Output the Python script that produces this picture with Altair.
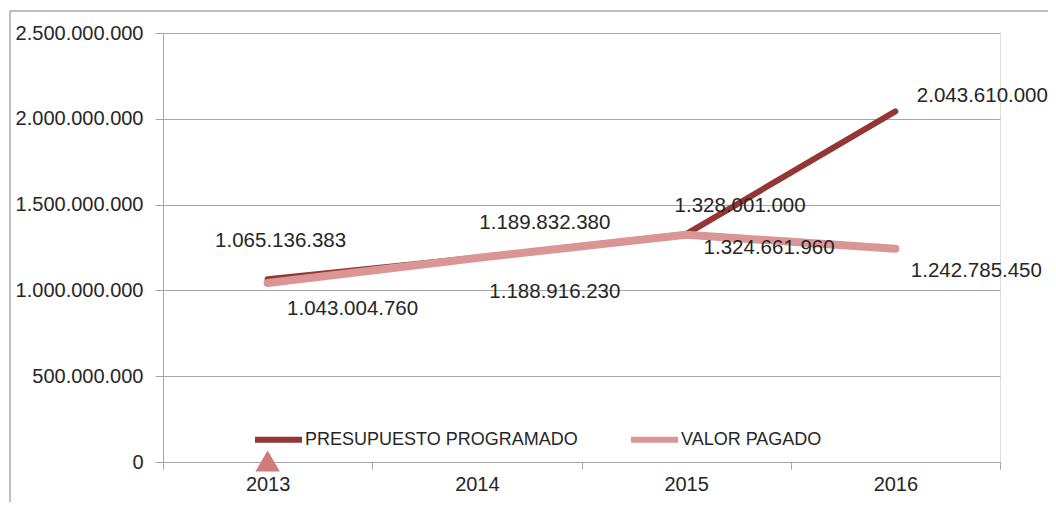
import altair as alt
import pandas as pd

years = ["2013", "2014", "2015", "2016"]
presupuesto = [1065136383, 1189832380, 1328001000, 2043610000]
pagado = [1043004760, 1188916230, 1324661960, 1242785450]
series_names = ["PRESUPUESTO PROGRAMADO", "VALOR PAGADO"]
y_ticks = [0, 500000000, 1000000000, 1500000000, 2000000000, 2500000000]

rows = []
for s, vals in zip(series_names, [presupuesto, pagado]):
    for yr, v in zip(years, vals):
        rows.append({"year": yr, "value": v, "series": s})
df = pd.DataFrame(rows)

DARK = "#943634"
PINK = "#D99694"
TXT = "#262626"
GRID = "#A6A6A6"
FONT = "Liberation Sans"

# label offsets (pixels) relative to each point
offsets = {
    ("PRESUPUESTO PROGRAMADO", "2013"): (13, -38),
    ("PRESUPUESTO PROGRAMADO", "2014"): (68, -35),
    ("PRESUPUESTO PROGRAMADO", "2015"): (54, -28),
    ("PRESUPUESTO PROGRAMADO", "2016"): (87, -15),
    ("VALOR PAGADO", "2013"): (85, 26),
    ("VALOR PAGADO", "2014"): (78, 34),
    ("VALOR PAGADO", "2015"): (83, 13),
    ("VALOR PAGADO", "2016"): (81, 22),
}

xenc = alt.X(
    "year:N",
    sort=years,
    bandPosition=0.5,
    scale=alt.Scale(type="band", paddingInner=0, paddingOuter=0),
    axis=alt.Axis(
        title=None, labelAngle=0, tickBand="extent", grid=False,
        domainColor=GRID, tickColor=GRID, tickSize=7, labelPadding=5,
        labelFontSize=20, labelColor=TXT, labelFont=FONT,
    ),
)
yenc = alt.Y(
    "value:Q",
    scale=alt.Scale(domain=[0, 2500000000], nice=False),
    axis=alt.Axis(
        title=None, values=y_ticks, format=",.0f",
        gridColor=GRID, domainColor=GRID, tickColor=GRID, tickSize=8,
        labelPadding=12, labelFontSize=20, labelColor=TXT, labelFont=FONT,
    ),
)
color = alt.Color(
    "series:N",
    scale=alt.Scale(domain=series_names, range=[DARK, PINK]),
    legend=alt.Legend(
        title=None, orient="none", legendX=89, legendY=380,
        direction="horizontal", symbolType="stroke", symbolSize=2209,
        symbolStrokeWidth=6, labelFontSize=18, labelFont=FONT,
        labelColor=TXT, labelOffset=0, columnPadding=41, labelLimit=600,
    ),
)

base = alt.Chart(df)
line_p = base.transform_filter(alt.datum.series == series_names[0]).mark_line(
    strokeWidth=6, strokeCap="round", strokeJoin="round"
).encode(x=xenc, y=yenc, color=color)
line_v = base.transform_filter(alt.datum.series == series_names[1]).mark_line(
    strokeWidth=8, strokeCap="round", strokeJoin="round"
).encode(x=xenc, y=yenc, color=color)

labels = []
for (s, yr), (dx, dy) in offsets.items():
    labels.append(
        base.transform_filter((alt.datum.series == s) & (alt.datum.year == yr))
        .mark_text(dx=dx, dy=dy, fontSize=20.5, font=FONT, color=TXT, baseline="middle")
        .encode(x=xenc, y=yenc, text=alt.Text("value:Q", format=",.0f"))
    )

marker = alt.Chart(pd.DataFrame({"year": ["2013"]})).mark_point(
    shape="triangle-up", filled=True, size=600, color="#D07A7A", opacity=1
).encode(x=xenc, y=alt.value(428))

one = pd.DataFrame({"a": [0]})
frame_top = alt.Chart(one).mark_rule(color="#7F7F7F", strokeWidth=1).encode(
    x=alt.value(-153), x2=alt.value(1100), y=alt.value(-22)
)
frame_left = alt.Chart(one).mark_rule(color="#7F7F7F", strokeWidth=1).encode(
    x=alt.value(-153), y=alt.value(-22), y2=alt.value(520)
)

chart = alt.layer(frame_top, frame_left, line_p, line_v, marker, *labels).properties(
    width=837, height=429,
    autosize=alt.AutoSizeParams(type="none"),
    padding={"left": 155, "top": 25, "right": 48, "bottom": 40},
).configure_view(fill="#F2E7E7", stroke=None).configure(
    locale={"number": {"decimal": ",", "thousands": ".", "grouping": [3], "currency": ["", ""]}}
)

chart.save("out.html", embed_options={"renderer": "svg", "actions": False})
